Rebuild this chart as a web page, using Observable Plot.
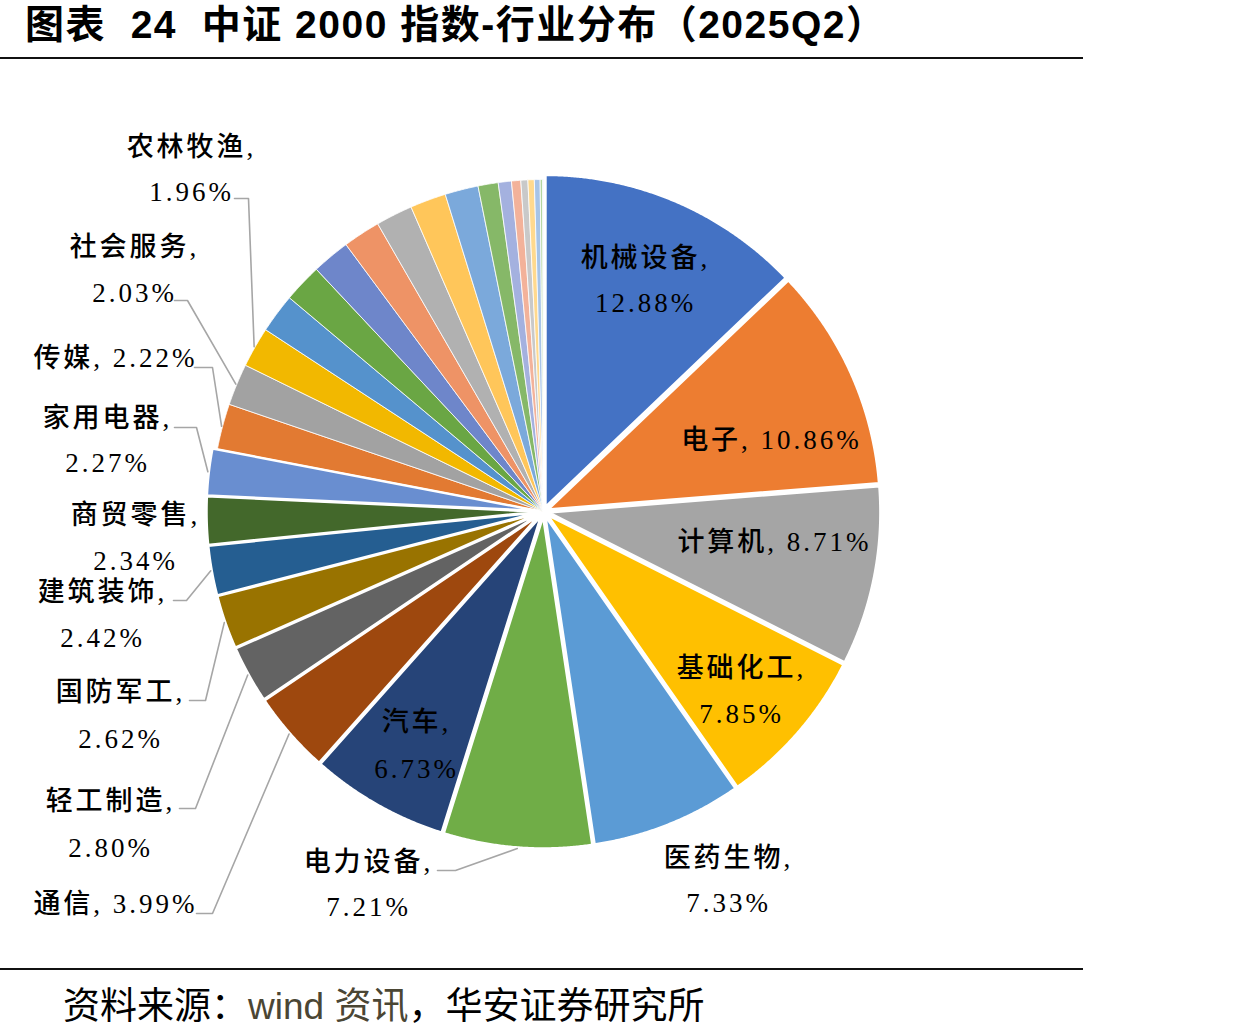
<!DOCTYPE html>
<html><head><meta charset="utf-8">
<script src="https://cdn.jsdelivr.net/npm/d3@7"></script>
<script src="https://cdn.jsdelivr.net/npm/@observablehq/plot@0.6"></script>
<style>
body{margin:0;background:#fff;}
#wrap{width:1083px;position:relative;}
#title{height:57px;border-bottom:2px solid #111;font-family:"Liberation Sans","Noto Sans CJK SC",sans-serif;font-weight:bold;font-size:39px;letter-spacing:1.5px;line-height:50px;padding-left:25px;white-space:pre;color:#000;box-sizing:content-box;}
#chart svg{display:block;}
#caption{border-top:2px solid #111;height:64px;line-height:66px;padding-left:63px;font-family:"Noto Sans CJK SC","Liberation Sans",sans-serif;font-size:37px;color:#000;white-space:pre;}
#caption .src{color:#4b4634;font-family:"Liberation Sans","Noto Sans CJK SC",sans-serif;}
#chart text{letter-spacing:3px;}
</style></head>
<body>
<div id="wrap">
<div id="title">图表  24  中证 2000 指数-行业分布（2025Q2）</div>
<div id="chart"></div>
<div id="caption">资料来源：<span class="src">wind 资讯</span>，华安证券研究所</div>
</div>
<script>
// ---- data ----
const labeledNames = ["机械设备","电子","计算机","基础化工","医药生物","电力设备","汽车","通信","轻工制造","国防军工","建筑装饰","商贸零售","家用电器","传媒","社会服务","农林牧渔"];
const labeledValues = [12.88,10.86,8.71,7.85,7.33,7.21,6.73,3.99,2.80,2.62,2.42,2.34,2.27,2.22,2.03,1.96];
// unlabeled slices
const otherNames = ["其他1","其他2","其他3","其他4","其他5","其他6","其他7","其他8","其他9","其他10","其他11","其他12","其他13","其他14","其他15"];
const otherValues = [1.91,1.88,1.85,1.82,1.79,1.75,1.62,0.98,0.64,0.45,0.34,0.31,0.28,0.12,0.04];
const sliceColors = ["#4472C4","#ED7D31","#A5A5A5","#FFC000","#5B9BD5","#70AD47","#264478","#9E480E","#636363","#997300","#255E91","#43682B","#698ED0","#E27A32","#A2A2A2","#F2B800","#5592CC","#6AA644","#6E86CA","#EE9366","#B1B1B1","#FFC65A","#7BA9DB","#86B868","#A4B1DF","#F3B29A","#C9C9C9","#FFD98E","#A7C4E7","#B4D5A0","#BDD0EE"];

// ---- layout (page pixels) ----
const W = 1083, svgTop = 59, svgH = 909;
const cx = 543, cy = 511, R = 332, explode = 5, explodedCount = 13;
const labelLayout = [
  {name:"机械设备", x:645, y:[258,303]},
  {name:"电子", x:771, y:[440]},
  {name:"计算机", x:774, y:[542]},
  {name:"基础化工", x:741, y:[668,714]},
  {name:"医药生物", x:728, y:[858,903]},
  {name:"电力设备", x:368, y:[862,907]},
  {name:"汽车", x:416, y:[722,769]},
  {name:"通信", x:115, y:[904]},
  {name:"轻工制造", x:110, y:[801,848]},
  {name:"国防军工", x:120, y:[692,739]},
  {name:"建筑装饰", x:102, y:[592,638]},
  {name:"商贸零售", x:135, y:[515,561]},
  {name:"家用电器", x:107, y:[418,463]},
  {name:"传媒", x:115, y:[358]},
  {name:"社会服务", x:134, y:[247,293]},
  {name:"农林牧渔", x:191, y:[147,192]}
];
const leaderLayout = [
  {name:"电力设备", from:[437,870], elbow:[455,870]},
  {name:"通信", from:[196,913], elbow:[212,913]},
  {name:"轻工制造", from:[179,808], elbow:[195,808]},
  {name:"国防军工", from:[189,700], elbow:[205,700]},
  {name:"建筑装饰", from:[173,600], elbow:[186,600]},
  {name:"家用电器", from:[174,427], elbow:[196,427]},
  {name:"传媒", from:[194,367], elbow:[212,367]},
  {name:"社会服务", from:[174,300], elbow:[187,300]},
  {name:"农林牧渔", from:[234,198], elbow:[248,198]}
];

// ---- build slices ----
const allNames = labeledNames.concat(otherNames);
const allValues = labeledValues.concat(otherValues);
const total = d3.sum(allValues);
let acc = 0;
const slices = allNames.map((name, i) => {
  const a0 = acc / total * 2 * Math.PI;
  acc += allValues[i];
  const a1 = acc / total * 2 * Math.PI;
  return {name, value: allValues[i], i, a0, a1, mid: (a0 + a1) / 2, ex: i < explodedCount ? explode : 0};
});
function slicePoints(s) {
  const ox = s.ex * Math.sin(s.mid), oy = s.ex * Math.cos(s.mid);
  const pts = [{name: s.name, x: ox, y: oy}];
  const n = Math.max(2, Math.ceil((s.a1 - s.a0) / (Math.PI / 720)));
  for (let k = 0; k <= n; k++) {
    const a = s.a0 + (s.a1 - s.a0) * k / n;
    pts.push({name: s.name, x: ox + R * Math.sin(a), y: oy + R * Math.cos(a)});
  }
  pts.push({name: s.name, x: ox, y: oy});
  return pts;
}
const thinPts = slices.filter(s => s.ex === 0).flatMap(slicePoints);
const thickPts = slices.filter(s => s.ex > 0).flatMap(slicePoints);

const byName = new Map(slices.map(s => [s.name, s]));
const toX = px => px - cx, toY = py => cy - py;

const labelLines = labelLayout.flatMap(l => {
  const s = byName.get(l.name);
  const v = s.value.toFixed(2) + "%";
  const texts = l.y.length === 1 ? [`${l.name}, ${v}`] : [`${l.name},`, v];
  return texts.map((t, k) => ({text: t, x: toX(l.x), y: toY(l.y[k])}));
});
const leaderPts = leaderLayout.flatMap(l => {
  const s = byName.get(l.name);
  const rr = R + s.ex + 1;
  return [
    {name: l.name, x: toX(l.from[0]), y: toY(l.from[1])},
    {name: l.name, x: toX(l.elbow[0]), y: toY(l.elbow[1])},
    {name: l.name, x: rr * Math.sin(s.mid), y: rr * Math.cos(s.mid)}
  ];
});

const labelFont = `"Liberation Serif","Noto Sans CJK SC",serif`;
const chart = Plot.plot({
  width: W, height: svgH, margin: 0,
  style: {background: "#fff", overflow: "visible"},
  x: {domain: [-cx, W - cx], range: [0, W], axis: null},
  y: {domain: [cy - svgTop - svgH, cy - svgTop], range: [svgH, 0], axis: null},
  color: {domain: allNames, range: sliceColors},
  marks: [
    Plot.line(thinPts, {x: "x", y: "y", z: "name", fill: "name", stroke: "white", strokeWidth: 0.8, strokeLinejoin: "round", curve: "linear"}),
    Plot.line(thickPts, {x: "x", y: "y", z: "name", fill: "name", stroke: "white", strokeWidth: 2.5, strokeLinejoin: "round", curve: "linear"}),
    Plot.line(leaderPts, {x: "x", y: "y", z: "name", stroke: "#a6a6a6", strokeWidth: 1.6, curve: "linear"}),
    Plot.text(labelLines, {x: "x", y: "y", text: "text", fontSize: 27, fontFamily: labelFont, fontWeight: 500, fill: "#000", textAnchor: "middle", lineAnchor: "middle"})
  ]
});
document.getElementById("chart").appendChild(chart);
</script>
</body></html>
